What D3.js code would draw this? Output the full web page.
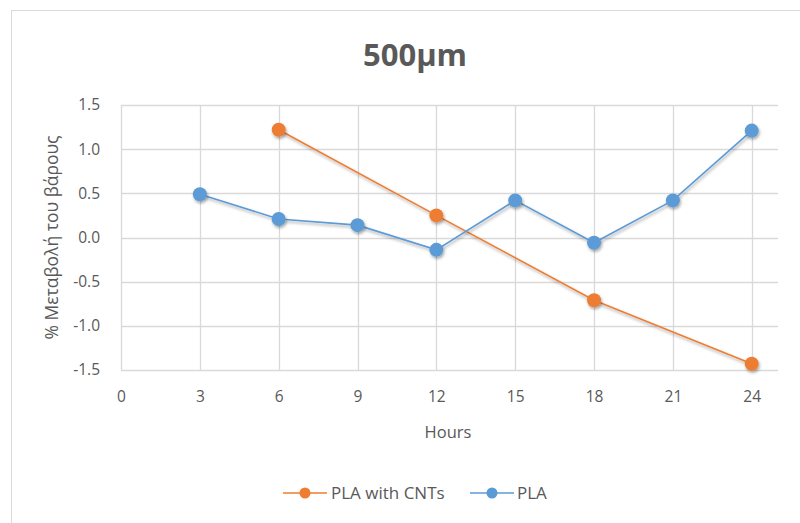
<!DOCTYPE html>
<html>
<head>
<meta charset="utf-8">
<script src="https://cdn.jsdelivr.net/npm/d3@7"></script>
<style>
  body { margin: 0; background: #fff; }
  text { font-family: "Open Sans", Lato, sans-serif; fill: #595959; }
</style>
</head>
<body>
<div id="chart"></div>
<script>
const width = 800;
const height = 523;
const margin = { top: 105, right: 22, bottom: 153, left: 121 };

// data
const hoursCNT = [6, 12, 18, 24];
const valuesCNT = [1.22, 0.25, -0.71, -1.43];
const hoursPLA = [3, 6, 9, 12, 15, 18, 21, 24];
const valuesPLA = [0.49, 0.21, 0.14, -0.14, 0.42, -0.06, 0.42, 1.21];
const xTicks = [0, 3, 6, 9, 12, 15, 18, 21, 24];
const yTicks = [-1.5, -1.0, -0.5, 0.0, 0.5, 1.0, 1.5];

const series = [
  { name: "PLA with CNTs", color: "#ED7D31", points: hoursCNT.map((h, i) => [h, valuesCNT[i]]) },
  { name: "PLA", color: "#5B9BD5", points: hoursPLA.map((h, i) => [h, valuesPLA[i]]) },
];

const svg = d3
  .select("#chart")
  .append("svg")
  .attr("width", width)
  .attr("height", height);

// chart frame
svg
  .append("rect")
  .attr("x", 11.5)
  .attr("y", 10.5)
  .attr("width", width)
  .attr("height", height)
  .attr("fill", "none")
  .attr("stroke", "#d9d9d9");

const defs = svg.append("defs");
const shadow = defs.append("filter").attr("id", "shadow").attr("x", "-50%").attr("y", "-50%").attr("width", "200%").attr("height", "200%");
shadow
  .append("feDropShadow")
  .attr("dx", 1)
  .attr("dy", 2)
  .attr("stdDeviation", 1.5)
  .attr("flood-color", "#000")
  .attr("flood-opacity", 0.35);

const plotW = width - margin.left - margin.right;
const plotH = height - margin.top - margin.bottom;

const x = d3.scaleLinear().domain([0, 25]).range([0, plotW]);
const y = d3.scaleLinear().domain([-1.5, 1.5]).range([plotH, 0]);

const g = svg
  .append("g")
  .attr("transform", "translate(" + margin.left + "," + margin.top + ")");

//gridlines
g.selectAll(".hgrid")
  .data(yTicks)
  .enter()
  .append("line")
  .attr("x1", 0)
  .attr("x2", plotW)
  .attr("y1", (d) => Math.round(y(d)) + 0.5)
  .attr("y2", (d) => Math.round(y(d)) + 0.5)
  .attr("stroke", "#d9d9d9")
  .attr("stroke-width", 1.3);
g.selectAll(".vgrid")
  .data(xTicks)
  .enter()
  .append("line")
  .attr("x1", (d) => Math.round(x(d)) + 0.5)
  .attr("x2", (d) => Math.round(x(d)) + 0.5)
  .attr("y1", 0)
  .attr("y2", plotH)
  .attr("stroke", "#d9d9d9")
  .attr("stroke-width", 1.3);

// axes (labels only)
const yAxis = g
  .append("g")
  .call(d3.axisLeft(y).tickValues(yTicks).tickFormat((d) => d.toFixed(1)).tickSize(0).tickPadding(21));
yAxis.select(".domain").remove();
yAxis.selectAll("text").style("font-size", "15.5px").attr("fill", "#595959").style("font-family", "'Open Sans', sans-serif");

const xAxis = g
  .append("g")
  .attr("transform", "translate(0," + plotH + ")")
  .call(d3.axisBottom(x).tickValues(xTicks).tickSize(0).tickPadding(21));
xAxis.select(".domain").remove();
xAxis.selectAll("text").style("font-size", "15.5px").attr("fill", "#595959").style("font-family", "'Open Sans', sans-serif");

// lines + markers
const line = d3
  .line()
  .x((d) => x(d[0]))
  .y((d) => y(d[1]));

series.forEach((s) => {
  g.append("path")
    .datum(s.points)
    .attr("fill", "none")
    .attr("stroke", s.color)
    .attr("stroke-width", 1.6)
    .attr("filter", "url(#shadow)")
    .attr("d", line);
});
series.forEach((s) => {
  g.selectAll(null)
    .data(s.points)
    .enter()
    .append("circle")
    .attr("cx", (d) => x(d[0]))
    .attr("cy", (d) => y(d[1]))
    .attr("r", 7)
    .attr("fill", s.color)
    .attr("filter", "url(#shadow)");
});

// title
svg
  .append("text")
  .text("500μm")
  .attr("x", 415)
  .attr("y", 66)
  .attr("text-anchor", "middle")
  .style("font-size", "31px")
  .style("font-weight", "bold");

// axis titles
svg
  .append("text")
  .text("Hours")
  .attr("x", 448)
  .attr("y", 438)
  .attr("text-anchor", "middle")
  .style("font-size", "16.5px");
svg
  .append("text")
  .text("% Μεταβολή του βάρους")
  .attr("transform", "translate(58," + (margin.top + y(0)) + ") rotate(-90)")
  .attr("text-anchor", "middle")
  .style("font-size", "17.5px");

// legend
const legendItems = [
  { x: 283, textX: 331 },
  { x: 470, textX: 517 },
];
const legend = svg.append("g").attr("transform", "translate(0,493)");
series.forEach((s, i) => {
  const lx = legendItems[i].x;
  legend
    .append("line")
    .attr("x1", lx)
    .attr("x2", lx + 44)
    .attr("y1", 0)
    .attr("y2", 0)
    .attr("stroke", s.color)
    .attr("stroke-width", 1.6);
  legend
    .append("circle")
    .attr("cx", lx + 22)
    .attr("cy", 0)
    .attr("r", 5.5)
    .attr("fill", s.color);
  legend
    .append("text")
    .text(s.name)
    .attr("x", legendItems[i].textX)
    .attr("y", 6)
    .style("font-size", "17px");
});
</script>
</body>
</html>
